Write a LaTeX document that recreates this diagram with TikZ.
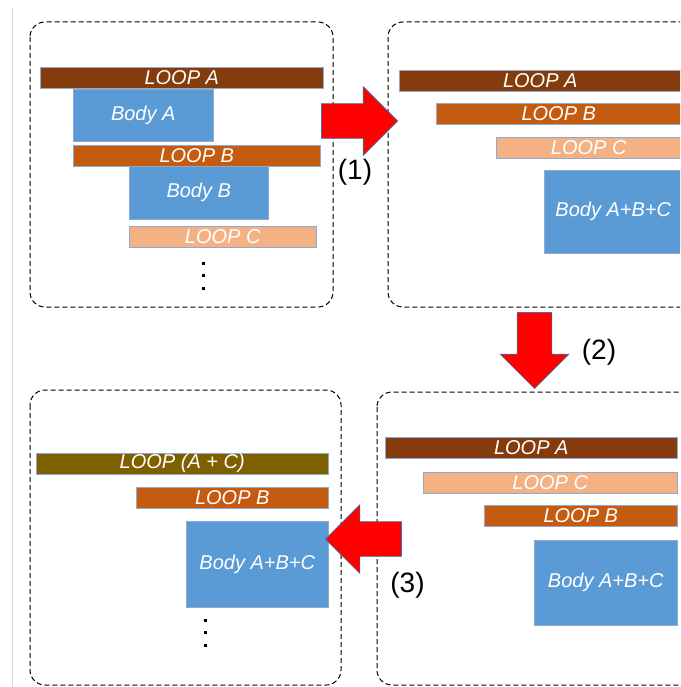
\documentclass[tikz,border=0pt]{standalone}
\usepackage{fontspec}
\setmainfont{Liberation Sans}
\usetikzlibrary{shapes.arrows}
\definecolor{loopacol}{HTML}{843C0C}
\definecolor{loopbcol}{HTML}{C55A11}
\definecolor{loopccol}{HTML}{F4B183}
\definecolor{loopaccol}{HTML}{7F6000}
\definecolor{bodycol}{HTML}{5B9BD5}
\definecolor{barline}{HTML}{8FAACC}
\definecolor{arrowline}{HTML}{41719C}
\tikzset{
bar/.style={rectangle, draw=barline, line width=0.5pt, anchor=north west, inner sep=0pt, text=white, font=\itshape\fontsize{20}{20}\selectfont},
loopa/.style={bar, fill=loopacol, minimum height=21pt},
loopb/.style={bar, fill=loopbcol, minimum height=21pt},
loopc/.style={bar, fill=loopccol, minimum height=21pt},
loopac/.style={bar, fill=loopaccol, minimum height=21pt},
body/.style={bar, fill=bodycol},
panel/.style={draw, dash pattern=on 5pt off 3pt, line width=1pt, rounded corners=15pt},
bigarrow/.style={single arrow, fill=red, draw=arrowline, line width=0.7pt, inner sep=17pt, single arrow head extend=17pt, minimum height=76pt, anchor=tip},
steplabel/.style={font=\fontsize{28}{28}\selectfont}
}

\begin{document}
\begin{tikzpicture}[x=1pt, y=-1pt]
    \useasboundingbox (0,0) rectangle (680,687);
    \clip (0,0) rectangle (680,687);
    \draw [black!15, line width=0.8pt] (12.5,8) -- (12.5,687);
    % Panels
    \draw [panel] (30,22) rectangle (333,307);
    \draw [panel] (388,22) rectangle (720,307);
    \draw [panel] (30,390) rectangle (341,685);
    \draw [panel] (377,392) rectangle (720,685);
    % Original nest
    \node [loopa, minimum width=283pt] (loopa1) at (40,67) {LOOP A};
    \node [body, minimum width=140pt, minimum height=52pt] (bodya1) at (73,89) {Body A};
    \node [loopb, minimum width=247pt] (loopb1) at (73,145) {LOOP B};
    \node [body, minimum width=139pt, minimum height=53pt] (bodyb1) at (129,166) {Body B};
    \node [loopc, minimum width=187pt] (loopc1) at (129,226) {LOOP C};
    \foreach \y in {263,275,288}
        \fill (201.5,\y-1.5) rectangle (204.5,\y+1.5);
    % After fusion of bodies
    \node [loopa, minimum width=282pt] (loopa2) at (399,70) {LOOP A};
    \node [loopb, minimum width=245pt] (loopb2) at (436,103) {LOOP B};
    \node [loopc, minimum width=185pt] (loopc2) at (496,137) {LOOP C};
    \node [body, minimum width=138pt, minimum height=83pt] (bodyall2) at (544,170) {Body A+B+C};
    % After interchange
    \node [loopa, minimum width=292pt] (loopa4) at (385,437) {LOOP A};
    \node [loopc, minimum width=254pt] (loopc4) at (423,472) {LOOP C};
    \node [loopb, minimum width=193pt] (loopb4) at (484,505) {LOOP B};
    \node [body, minimum width=143pt, minimum height=85pt] (bodyall4) at (534,540) {Body A+B+C};
    % After merging A and C
    \node [loopac, minimum width=292pt] (loopac3) at (36,453) {LOOP (A + C)};
    \node [loopb, minimum width=192pt] (loopb3) at (136,487) {LOOP B};
    \node [body, minimum width=142pt, minimum height=86pt] (bodyall3) at (186,521) {Body A+B+C};
    \foreach \y in {620,632,645}
        \fill (203.5,\y-1.5) rectangle (206.5,\y+1.5);
    % Step arrows
    \node [bigarrow] (arrow1) at (398,121) {};
    \node [bigarrow, shape border rotate=270] (arrow2) at (534.5,389) {};
    \node [bigarrow, shape border rotate=180] (arrow3) at (325,539) {};
    \node [steplabel] (label1) at (355,172) {(1)};
    \node [steplabel] (label2) at (599,352) {(2)};
    \node [steplabel] (label3) at (407.5,585) {(3)};
\end{tikzpicture}
\end{document}
